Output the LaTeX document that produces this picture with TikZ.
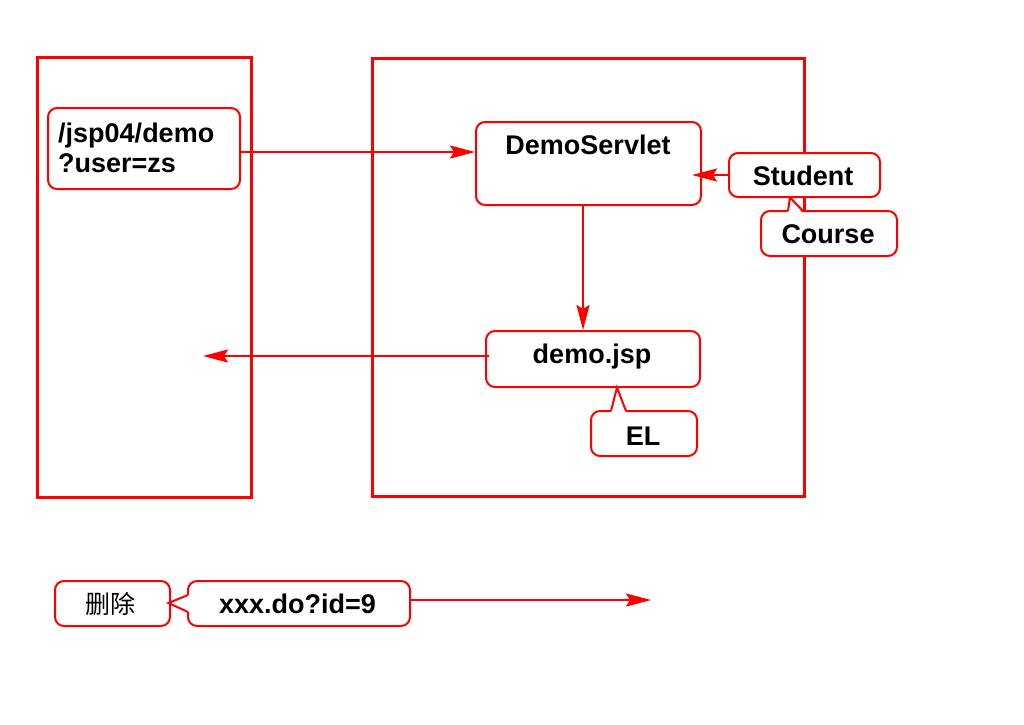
\documentclass[tikz,border=0pt]{standalone}
\usepackage{fontspec}
\setmainfont{Liberation Sans}
\newfontfamily\cjk{Noto Sans CJK SC}
\usetikzlibrary{arrows.meta}
\begin{document}
\begin{tikzpicture}[x=1pt,y=-1pt,
  frame/.style={draw=red, line width=3pt, inner sep=0pt},
  rbox/.style={draw=red, line width=2pt, rounded corners=9pt, fill=white, inner sep=0pt},
  lbl/.style={font=\fontsize{27}{31}\selectfont\bfseries, inner sep=0pt, anchor=base},
  cjklbl/.style={font=\cjk\fontsize{25}{29}\selectfont, inner sep=0pt, anchor=base},
  arr/.style={draw=red, line width=2.6pt, -{Stealth[length=25pt,width=13pt,inset=4pt]}},
  ptrfill/.style={fill=white, draw=none},
  ptr/.style={draw=red, line width=2pt, line join=miter}
]
\useasboundingbox (0,0) rectangle (1024,724);

% frames
\node[frame, minimum width=214pt, minimum height=440pt] (client) at (144,277) {};
\node[frame, minimum width=432pt, minimum height=438pt] (server) at (588,277) {};

% boxes
\node[rbox, minimum width=192pt, minimum height=81pt] (url) at (144,148.5) {};
\node[lbl, anchor=base west] (url1) at (58,142) {/jsp04/demo};
\node[lbl, anchor=base west] (url2) at (58,172) {?user=zs};

\node[rbox, minimum width=225pt, minimum height=83pt] (ds) at (588.5,163.5) {};
\node[lbl] (dst) at (588,154) {DemoServlet};

\node[rbox, minimum width=151pt, minimum height=44pt] (student) at (804.5,175) {};
\node[lbl] (studentt) at (803,185) {Student};

\node[rbox, minimum width=136pt, minimum height=45pt] (course) at (829,233.5) {};
\node[lbl] (courset) at (828,243) {Course};

\node[rbox, minimum width=214pt, minimum height=56pt] (jsp) at (593,359) {};
\node[lbl] (jspt) at (592,363) {demo.jsp};

\node[rbox, minimum width=106pt, minimum height=45pt] (el) at (644,433.5) {};
\node[lbl] (elt) at (643,445) {EL};

\node[rbox, minimum width=115pt, minimum height=45pt] (del) at (112.5,603.5) {};
\node[cjklbl] (delt) at (110,613) {删除};

\node[rbox, minimum width=222pt, minimum height=45pt] (xxx) at (299,603.5) {};
\node[lbl] (xxxt) at (297.5,613) {xxx.do?id=9};

% callout pointers
\fill[ptrfill] (787.3,214) -- (790,199.5) -- (803.8,214) -- cycle;
\draw[ptr] (788,211) -- (790,197.5) -- (803,211);

\fill[ptrfill] (610.3,414) -- (617,389.5) -- (626.8,414) -- cycle;
\draw[ptr] (611,411) -- (617,387.5) -- (626,411);

\fill[ptrfill] (191,594) -- (170.5,603) -- (191,613) -- cycle;
\draw[ptr] (188,595) -- (168.5,603) -- (188,612);

% connectors
\coordinate (back) at (203,356);
\coordinate (delend) at (651,600);
\draw[arr] ([yshift=-3.5pt]url.east) -- ([yshift=-3.5pt]url.east -| ds.west);
\draw[arr] (student.west) -- ([xshift=-10pt]ds.east |- student.west);
\draw[arr] ([xshift=-5.5pt]ds.south) -- ([xshift=-5.5pt]ds.south |- jsp.north);
\draw[arr] ([yshift=3pt,xshift=4pt]jsp.west) -- (back);
\draw[arr] ([yshift=3.5pt]xxx.east) -- (delend);
\end{tikzpicture}
\end{document}
